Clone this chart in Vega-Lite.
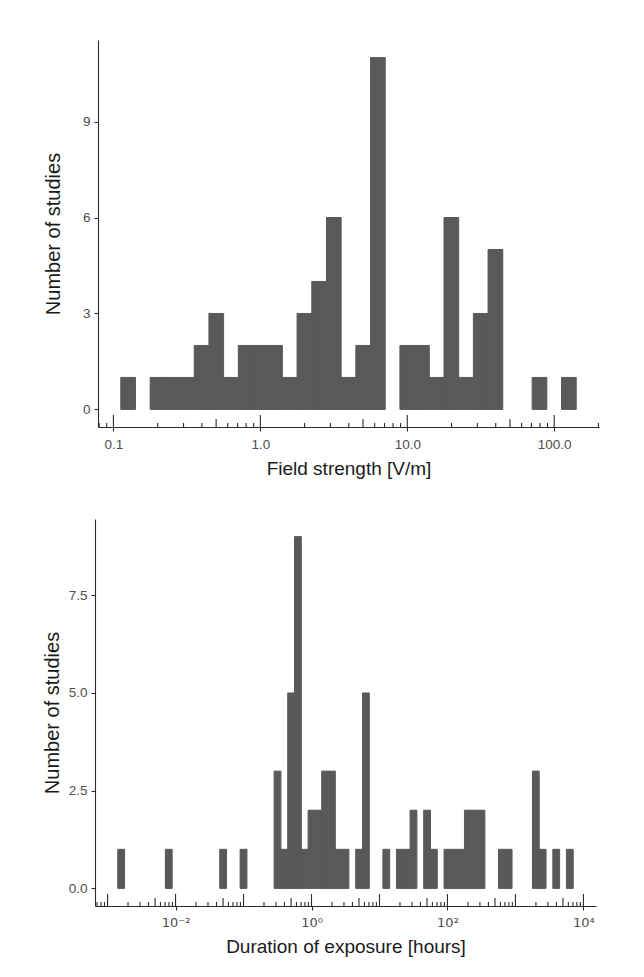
{
  "$schema": "https://vega.github.io/schema/vega-lite/v6.json",
  "background": "white",
  "padding": {"left": 42, "top": 40, "right": 10, "bottom": 10},
  "spacing": 40,
  "datasets": {
    "top": [
      {"lo": 0.112202, "hi": 0.141254, "n": 1},
      {"lo": 0.177828, "hi": 0.223872, "n": 1},
      {"lo": 0.223872, "hi": 0.281838, "n": 1},
      {"lo": 0.281838, "hi": 0.354813, "n": 1},
      {"lo": 0.354813, "hi": 0.446684, "n": 2},
      {"lo": 0.446684, "hi": 0.562341, "n": 3},
      {"lo": 0.562341, "hi": 0.707946, "n": 1},
      {"lo": 0.707946, "hi": 0.891251, "n": 2},
      {"lo": 0.891251, "hi": 1.122018, "n": 2},
      {"lo": 1.122018, "hi": 1.412538, "n": 2},
      {"lo": 1.412538, "hi": 1.778279, "n": 1},
      {"lo": 1.778279, "hi": 2.238721, "n": 3},
      {"lo": 2.238721, "hi": 2.818383, "n": 4},
      {"lo": 2.818383, "hi": 3.548134, "n": 6},
      {"lo": 3.548134, "hi": 4.466836, "n": 1},
      {"lo": 4.466836, "hi": 5.623413, "n": 2},
      {"lo": 5.623413, "hi": 7.079458, "n": 11},
      {"lo": 8.912509, "hi": 11.22018, "n": 2},
      {"lo": 11.22018, "hi": 14.12538, "n": 2},
      {"lo": 14.12538, "hi": 17.78279, "n": 1},
      {"lo": 17.78279, "hi": 22.38721, "n": 6},
      {"lo": 22.38721, "hi": 28.18383, "n": 1},
      {"lo": 28.18383, "hi": 35.48134, "n": 3},
      {"lo": 35.48134, "hi": 44.66836, "n": 5},
      {"lo": 70.79458, "hi": 89.12509, "n": 1},
      {"lo": 112.2018, "hi": 141.2538, "n": 1}
    ],
    "bottom": [
      {"lo": 0.00141254, "hi": 0.00177828, "n": 1},
      {"lo": 0.00707946, "hi": 0.00891251, "n": 1},
      {"lo": 0.0446684, "hi": 0.0562341, "n": 1},
      {"lo": 0.0891251, "hi": 0.112202, "n": 1},
      {"lo": 0.281838, "hi": 0.354813, "n": 3},
      {"lo": 0.354813, "hi": 0.446684, "n": 1},
      {"lo": 0.446684, "hi": 0.562341, "n": 5},
      {"lo": 0.562341, "hi": 0.707946, "n": 9},
      {"lo": 0.707946, "hi": 0.891251, "n": 1},
      {"lo": 0.891251, "hi": 1.122018, "n": 2},
      {"lo": 1.122018, "hi": 1.412538, "n": 2},
      {"lo": 1.412538, "hi": 1.778279, "n": 3},
      {"lo": 1.778279, "hi": 2.238721, "n": 3},
      {"lo": 2.238721, "hi": 2.818383, "n": 1},
      {"lo": 2.818383, "hi": 3.548134, "n": 1},
      {"lo": 4.466836, "hi": 5.623413, "n": 1},
      {"lo": 5.623413, "hi": 7.079458, "n": 5},
      {"lo": 11.22018, "hi": 14.12538, "n": 1},
      {"lo": 17.78279, "hi": 22.38721, "n": 1},
      {"lo": 22.38721, "hi": 28.18383, "n": 1},
      {"lo": 28.18383, "hi": 35.48134, "n": 2},
      {"lo": 44.66836, "hi": 56.23413, "n": 2},
      {"lo": 56.23413, "hi": 70.79458, "n": 1},
      {"lo": 89.12509, "hi": 112.2018, "n": 1},
      {"lo": 112.2018, "hi": 141.2538, "n": 1},
      {"lo": 141.2538, "hi": 177.8279, "n": 1},
      {"lo": 177.8279, "hi": 223.8721, "n": 2},
      {"lo": 223.8721, "hi": 281.8383, "n": 2},
      {"lo": 281.8383, "hi": 354.8134, "n": 2},
      {"lo": 562.3413, "hi": 707.9458, "n": 1},
      {"lo": 707.9458, "hi": 891.2509, "n": 1},
      {"lo": 1778.279, "hi": 2238.721, "n": 3},
      {"lo": 2238.721, "hi": 2818.383, "n": 1},
      {"lo": 3548.134, "hi": 4466.836, "n": 1},
      {"lo": 5623.413, "hi": 7079.458, "n": 1}
    ],
    "topTicks": [
      {"v": 0.1, "k": "long"}, {"v": 1, "k": "long"}, {"v": 10, "k": "long"}, {"v": 100, "k": "long"},
      {"v": 0.5, "k": "mid"}, {"v": 5, "k": "mid"}, {"v": 50, "k": "mid"},
      {"v": 0.08, "k": "short"}, {"v": 0.09, "k": "short"},
      {"v": 0.2, "k": "short"}, {"v": 0.3, "k": "short"}, {"v": 0.4, "k": "short"}, {"v": 0.6, "k": "short"}, {"v": 0.7, "k": "short"}, {"v": 0.8, "k": "short"}, {"v": 0.9, "k": "short"},
      {"v": 2, "k": "short"}, {"v": 3, "k": "short"}, {"v": 4, "k": "short"}, {"v": 6, "k": "short"}, {"v": 7, "k": "short"}, {"v": 8, "k": "short"}, {"v": 9, "k": "short"},
      {"v": 20, "k": "short"}, {"v": 30, "k": "short"}, {"v": 40, "k": "short"}, {"v": 60, "k": "short"}, {"v": 70, "k": "short"}, {"v": 80, "k": "short"}, {"v": 90, "k": "short"},
      {"v": 200, "k": "short"}
    ],
    "bottomTicks": [
      {"v": 0.001, "k": "long"}, {"v": 0.01, "k": "long"}, {"v": 0.1, "k": "long"}, {"v": 1, "k": "long"}, {"v": 10, "k": "long"}, {"v": 100, "k": "long"}, {"v": 1000, "k": "long"}, {"v": 10000, "k": "long"},
      {"v": 0.005, "k": "mid"}, {"v": 0.05, "k": "mid"}, {"v": 0.5, "k": "mid"}, {"v": 5, "k": "mid"}, {"v": 50, "k": "mid"}, {"v": 500, "k": "mid"}, {"v": 5000, "k": "mid"},
      {"v": 0.0007, "k": "short"}, {"v": 0.0008, "k": "short"}, {"v": 0.0009, "k": "short"},
      {"v": 0.002, "k": "short"}, {"v": 0.003, "k": "short"}, {"v": 0.004, "k": "short"}, {"v": 0.006, "k": "short"}, {"v": 0.007, "k": "short"}, {"v": 0.008, "k": "short"}, {"v": 0.009, "k": "short"},
      {"v": 0.02, "k": "short"}, {"v": 0.03, "k": "short"}, {"v": 0.04, "k": "short"}, {"v": 0.06, "k": "short"}, {"v": 0.07, "k": "short"}, {"v": 0.08, "k": "short"}, {"v": 0.09, "k": "short"},
      {"v": 0.2, "k": "short"}, {"v": 0.3, "k": "short"}, {"v": 0.4, "k": "short"}, {"v": 0.6, "k": "short"}, {"v": 0.7, "k": "short"}, {"v": 0.8, "k": "short"}, {"v": 0.9, "k": "short"},
      {"v": 2, "k": "short"}, {"v": 3, "k": "short"}, {"v": 4, "k": "short"}, {"v": 6, "k": "short"}, {"v": 7, "k": "short"}, {"v": 8, "k": "short"}, {"v": 9, "k": "short"},
      {"v": 20, "k": "short"}, {"v": 30, "k": "short"}, {"v": 40, "k": "short"}, {"v": 60, "k": "short"}, {"v": 70, "k": "short"}, {"v": 80, "k": "short"}, {"v": 90, "k": "short"},
      {"v": 200, "k": "short"}, {"v": 300, "k": "short"}, {"v": 400, "k": "short"}, {"v": 600, "k": "short"}, {"v": 700, "k": "short"}, {"v": 800, "k": "short"}, {"v": 900, "k": "short"},
      {"v": 2000, "k": "short"}, {"v": 3000, "k": "short"}, {"v": 4000, "k": "short"}, {"v": 6000, "k": "short"}, {"v": 7000, "k": "short"}, {"v": 8000, "k": "short"}, {"v": 9000, "k": "short"}
    ]
  },
  "vconcat": [
    {
      "width": 501,
      "height": 387,
      "layer": [
        {
          "data": {"name": "top"},
          "mark": {"type": "rect", "color": "#595959", "stroke": "#595959", "strokeWidth": 1},
          "encoding": {
            "x": {"field": "lo", "type": "quantitative",
                  "scale": {"type": "log", "domain": [0.078524, 201.84], "nice": false},
                  "axis": {"title": "Field strength [V/m]", "values": [0.1, 1, 10, 100], "format": ".1f",
                           "tickSize": 4, "labelPadding": 6, "titlePadding": 9}},
            "x2": {"field": "hi"},
            "y": {"field": "n", "type": "quantitative",
                  "scale": {"domain": [-0.55, 11.55], "nice": false, "zero": false},
                  "axis": {"title": "Number of studies", "values": [0, 3, 6, 9], "format": "d",
                           "tickSize": 4, "labelPadding": 4, "titlePadding": 18.5}},
            "y2": {"datum": 0}
          }
        },
        {
          "data": {"name": "topTicks"},
          "transform": [{"filter": "datum.k == 'short'"}],
          "mark": {"type": "rule", "color": "#2b2b2b", "strokeWidth": 1.1, "y2Offset": -4},
          "encoding": {"x": {"field": "v", "type": "quantitative"}, "y": {"value": "height"}, "y2": {"value": "height"}}
        },
        {
          "data": {"name": "topTicks"},
          "transform": [{"filter": "datum.k == 'mid'"}],
          "mark": {"type": "rule", "color": "#2b2b2b", "strokeWidth": 1.1, "y2Offset": -8},
          "encoding": {"x": {"field": "v", "type": "quantitative"}, "y": {"value": "height"}, "y2": {"value": "height"}}
        },
        {
          "data": {"name": "topTicks"},
          "transform": [{"filter": "datum.k == 'long'"}],
          "mark": {"type": "rule", "color": "#2b2b2b", "strokeWidth": 1.1, "y2Offset": -12},
          "encoding": {"x": {"field": "v", "type": "quantitative"}, "y": {"value": "height"}, "y2": {"value": "height"}}
        }
      ]
    },
    {
      "width": 501,
      "height": 387,
      "layer": [
        {
          "data": {"name": "bottom"},
          "mark": {"type": "rect", "color": "#595959", "stroke": "#595959", "strokeWidth": 1},
          "encoding": {
            "x": {"field": "lo", "type": "quantitative",
                  "scale": {"type": "log", "domain": [0.00065313, 15310.9], "nice": false, "range": [-3, 498]},
                  "axis": {"title": "Duration of exposure [hours]", "values": [0.01, 1, 100, 10000],
                           "labelExpr": "datum.value < 0.5 ? '10⁻²' : datum.value < 5 ? '10⁰' : datum.value < 500 ? '10²' : '10⁴'",
                           "labelFont": "DejaVu Sans", "labelFontSize": 13,
                           "tickSize": 4, "labelPadding": 6, "titlePadding": 8}},
            "x2": {"field": "hi"},
            "y": {"field": "n", "type": "quantitative",
                  "scale": {"domain": [-0.45, 9.45], "nice": false, "zero": false},
                  "axis": {"title": "Number of studies", "values": [0, 2.5, 5, 7.5], "format": ".1f",
                           "tickSize": 4, "labelPadding": 4, "titlePadding": 6, "offset": 3}},
            "y2": {"datum": 0}
          }
        },
        {
          "data": {"name": "bottomTicks"},
          "transform": [{"filter": "datum.k == 'short'"}],
          "mark": {"type": "rule", "color": "#2b2b2b", "strokeWidth": 1.1, "y2Offset": -4},
          "encoding": {"x": {"field": "v", "type": "quantitative"}, "y": {"value": "height"}, "y2": {"value": "height"}}
        },
        {
          "data": {"name": "bottomTicks"},
          "transform": [{"filter": "datum.k == 'mid'"}],
          "mark": {"type": "rule", "color": "#2b2b2b", "strokeWidth": 1.1, "y2Offset": -8},
          "encoding": {"x": {"field": "v", "type": "quantitative"}, "y": {"value": "height"}, "y2": {"value": "height"}}
        },
        {
          "data": {"name": "bottomTicks"},
          "transform": [{"filter": "datum.k == 'long'"}],
          "mark": {"type": "rule", "color": "#2b2b2b", "strokeWidth": 1.1, "y2Offset": -12},
          "encoding": {"x": {"field": "v", "type": "quantitative"}, "y": {"value": "height"}, "y2": {"value": "height"}}
        }
      ]
    }
  ],
  "config": {
    "view": {"stroke": null},
    "axis": {
      "grid": false,
      "domainColor": "#2b2b2b",
      "tickColor": "#2b2b2b",
      "domainWidth": 1.1,
      "tickWidth": 1.1,
      "labelFont": "Liberation Sans",
      "titleFont": "Liberation Sans",
      "labelColor": "#4d4d4d",
      "titleColor": "#1a1a1a",
      "labelFontSize": 13.5,
      "titleFontWeight": "normal",
      "labelFlush": false,
      "labelOverlap": false
    },
    "axisX": {"titleFontSize": 19},
    "axisY": {"titleFontSize": 20}
  }
}
